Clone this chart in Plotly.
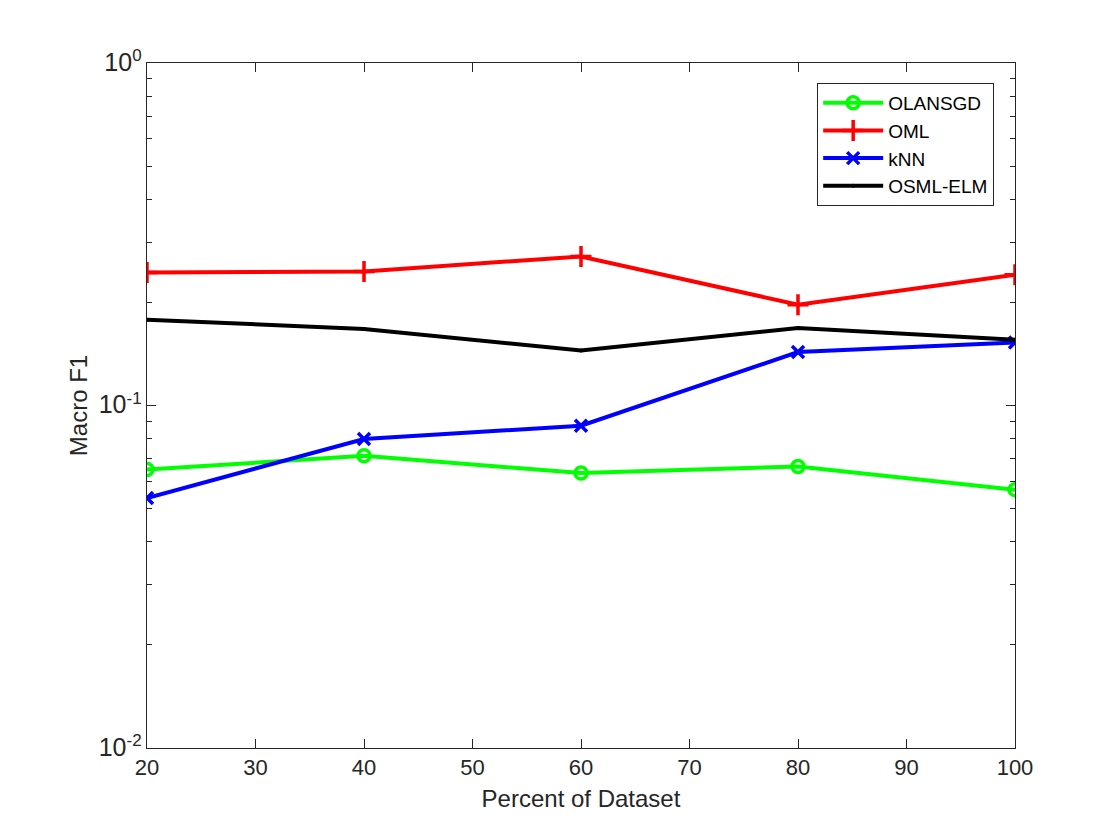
import plotly.graph_objects as go

x_pct = [20, 40, 60, 80, 100]
olansgd = [0.0650, 0.0713, 0.0635, 0.0664, 0.0568]
oml = [0.2446, 0.2463, 0.2724, 0.1969, 0.2408]
knn = [0.0537, 0.0798, 0.0873, 0.1432, 0.1528]
osml_elm = [0.1780, 0.1673, 0.1448, 0.1684, 0.1556]

y_major = [0.01, 0.1, 1]
y_exps = ["-2", "-1", "0"]
y_major_text = ["<span style='font-size:25px'>10</span><sup><span style='font-size:17px'>%s</span></sup>" % e
                for e in y_exps]
y_minor = [m * d for d in (0.01, 0.1) for m in range(2, 10)]
x_ticks = [20, 30, 40, 50, 60, 70, 80, 90, 100]

fig = go.Figure()
lw = 4
fig.add_trace(go.Scatter(x=x_pct, y=olansgd, name="OLANSGD", mode="lines+markers",
                         line=dict(color="#00ff00", width=lw),
                         marker=dict(symbol="circle-open", size=12, color="#00ff00", line=dict(width=3.5))))
fig.add_trace(go.Scatter(x=x_pct, y=oml, name="OML", mode="lines+markers",
                         line=dict(color="#ff0000", width=lw),
                         marker=dict(symbol="cross-thin-open", size=15, color="#ff0000", line=dict(width=3.5, color="#ff0000"))))
fig.add_trace(go.Scatter(x=x_pct, y=knn, name="kNN", mode="lines+markers",
                         line=dict(color="#0000ff", width=lw),
                         marker=dict(symbol="x-thin-open", size=12, color="#0000ff", line=dict(width=3.5, color="#0000ff"))))
fig.add_trace(go.Scatter(x=x_pct, y=osml_elm, name="OSML-ELM", mode="lines+markers",
                         line=dict(color="#000000", width=lw),
                         marker=dict(symbol="circle", size=4, color="#000000")))

axis_col = "#262626"
fig.update_layout(
    width=1120, height=840,
    margin=dict(l=138.5, r=113, t=55, b=100),
    paper_bgcolor="white", plot_bgcolor="white",
    font=dict(family="Liberation Sans, Arial, Helvetica, sans-serif", size=22, color=axis_col),
    showlegend=True,
    legend=dict(x=0.976, y=0.971, xanchor="right", yanchor="top",
                bgcolor="white", bordercolor=axis_col, borderwidth=1,
                font=dict(size=19, color="#000000"), itemwidth=60,
                tracegroupgap=0),
)
fig.update_xaxes(
    range=[20, 100], tickvals=x_ticks, ticks="inside", ticklen=9, tickwidth=1,
    tickcolor=axis_col, showline=True, linecolor=axis_col, linewidth=1, mirror="ticks",
    showgrid=False, zeroline=False,
    title=dict(text="Percent of Dataset", font=dict(size=24), standoff=10),
    tickfont=dict(size=22, color=axis_col),
)
fig.update_yaxes(
    type="log", range=[-2, 0], tickmode="array", tickvals=y_major, ticktext=y_major_text,
    ticks="inside", ticklen=9, tickwidth=1, tickcolor=axis_col,
    minor=dict(tickmode="array", tickvals=y_minor, ticks="inside", ticklen=5,
               tickcolor=axis_col, tickwidth=1, showgrid=False),
    showline=True, linecolor=axis_col, linewidth=1, mirror="ticks",
    showgrid=False, zeroline=False,
    title=dict(text="Macro F1", font=dict(size=24), standoff=4),
    tickfont=dict(size=22, color=axis_col),
)

fig.write_html("out.html")
